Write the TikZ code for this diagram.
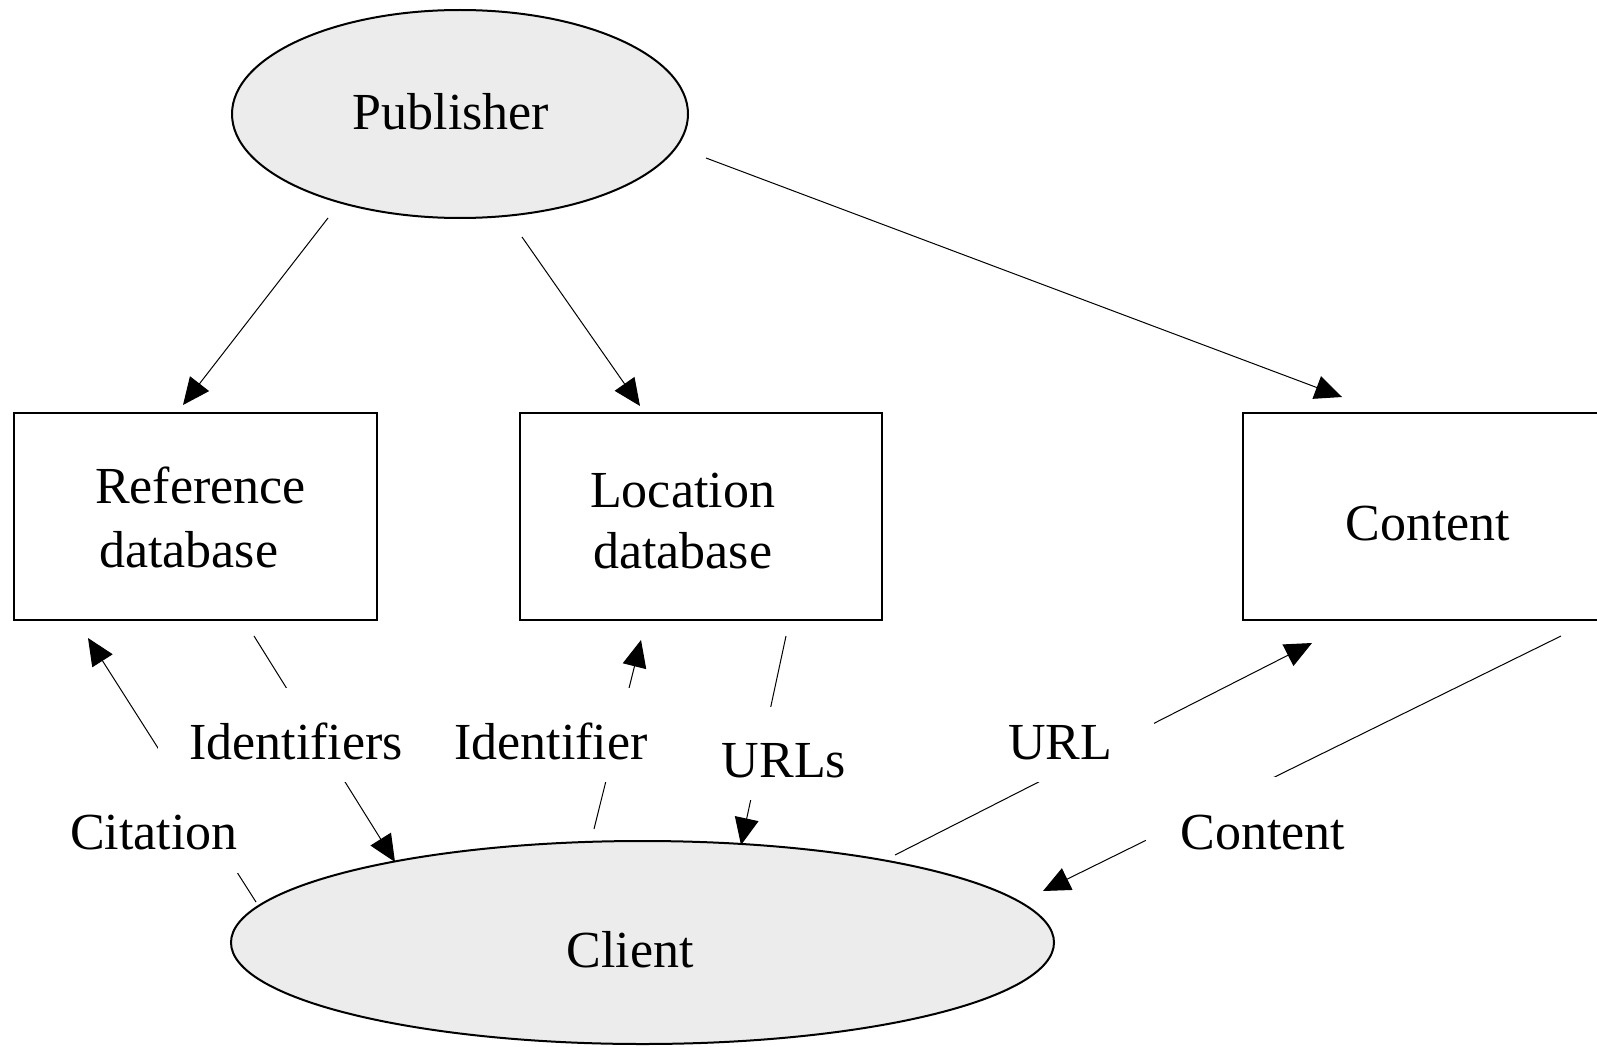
\documentclass[tikz,border=0pt]{standalone}
\usepackage{fontspec}
\setmainfont{Liberation Serif}
\usetikzlibrary{shapes.geometric,arrows.meta}
\definecolor{shapefill}{RGB}{236,236,236}
\begin{document}
\begin{tikzpicture}[x=1pt,y=-1pt,
  txt/.style={font=\fontsize{52}{62}\selectfont, inner sep=0pt},
  oval/.style={ellipse, draw, line width=2pt, fill=shapefill, inner sep=0pt},
  store/.style={rectangle, draw, line width=2pt, inner sep=0pt},
  flow/.style={line width=1pt, -{Triangle[length=27pt,width=24pt]}},
  lbl/.style={txt, fill=white, text height=48pt, text depth=0pt, minimum height=94pt}]
\clip (0,0) rectangle (1597,1046);
\fill[white] (0,0) rectangle (1597,1046);

% shapes
\node[oval, minimum width=456pt, minimum height=208pt] (pub) at (460,114) {};
\node[oval, minimum width=823pt, minimum height=203pt] (client) at (642.5,942.5) {};
\node[store, minimum width=363pt, minimum height=207pt] (refdb) at (195.5,516.5) {};
\node[store, minimum width=362pt, minimum height=207pt] (locdb) at (701,516.5) {};
\node[store, minimum width=370pt, minimum height=207pt] (content) at (1428,516.5) {};

% texts in shapes
\node[txt, anchor=base] (pubtext) at (451,130) {Publisher};
\node[txt, anchor=base west] (reftexta) at (95,503) {Reference};
\node[txt, anchor=base west] (reftextb) at (99,567) {database};
\node[txt, anchor=base west] (loctexta) at (590,507) {Location};
\node[txt, anchor=base west] (loctextb) at (593,568) {database};
\node[txt, anchor=base] (contenttext) at (1428,540) {Content};
\node[txt, anchor=base] (clienttext) at (630,967) {Client};

% connector end points
\coordinate (pr0) at (328,218);  \coordinate (pr1) at (183,405);
\coordinate (pl0) at (522,237);  \coordinate (pl1) at (640,406);
\coordinate (pc0) at (706,158);  \coordinate (pc1) at (1342,397);
\coordinate (ri0) at (254,636);  \coordinate (ri1) at (395,862);
\coordinate (cr0) at (256,902);  \coordinate (cr1) at (88,638);
\coordinate (cl0) at (594,829);  \coordinate (cl1) at (641,640);
\coordinate (lc0) at (786,636);  \coordinate (lc1) at (741,845);
\coordinate (cc0) at (895,855);  \coordinate (cc1) at (1312,643);
\coordinate (kc0) at (1561,636); \coordinate (kc1) at (1043,891);

% connectors
\draw[flow] (pr0) -- (pr1);
\draw[flow] (pl0) -- (pl1);
\draw[flow] (pc0) -- (pc1);
\draw[flow] (ri0) -- (ri1);
\draw[flow] (cr0) -- (cr1);
\draw[flow] (cl0) -- (cl1);
\draw[flow] (lc0) -- (lc1);
\draw[flow] (cc0) -- (cc1);
\draw[flow] (kc0) -- (kc1);

% labels (white boxes over connectors)
\node[lbl, minimum width=276pt] (lidents) at (296,735) {Identifiers};
\node[lbl, minimum width=246pt] (lident) at (551,735) {Identifier};
\node[lbl, minimum width=298pt, minimum height=96pt] (lcite) at (154,825) {Citation};
\node[lbl, minimum width=190pt, minimum height=93pt] (lurls) at (784,753.5) {URLs};
\node[lbl, minimum width=188pt] (lurl) at (1060,735) {URL};
\node[lbl, minimum width=234pt, minimum height=96pt] (lcontent) at (1263,825) {Content};
\end{tikzpicture}
\end{document}
